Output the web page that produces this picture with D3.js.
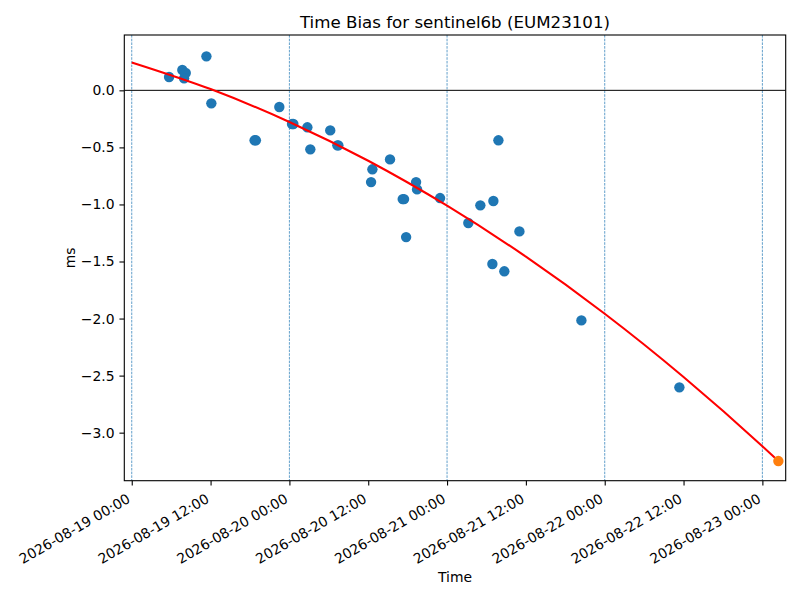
<!DOCTYPE html>
<html lang="en">
<head>
    <meta charset="UTF-8">
    <title>Time Bias for sentinel6b (EUM23101)</title>
    <script src="https://d3js.org/d3.v7.min.js"></script>
    <style>
        body { margin: 0; background: white; }
        svg { display: block; font-family: "DejaVu Sans", sans-serif; }
    </style>
</head>
<body>
    <svg id="chart" width="800" height="600"></svg>

    <script>
        // measured time bias samples (UTC time, ms)
        const sampleTimes = [
            '2026-08-19T05:41', '2026-08-19T07:42', '2026-08-19T08:13', '2026-08-19T07:58',
            '2026-08-19T11:22', '2026-08-19T12:07', '2026-08-19T18:42', '2026-08-19T18:54',
            '2026-08-19T22:28', '2026-08-20T00:24', '2026-08-20T00:36', '2026-08-20T02:44',
            '2026-08-20T03:11', '2026-08-20T06:13', '2026-08-20T07:18', '2026-08-20T07:27',
            '2026-08-20T12:38', '2026-08-20T12:26', '2026-08-20T15:19', '2026-08-20T17:15',
            '2026-08-20T17:27', '2026-08-20T17:46', '2026-08-20T19:17', '2026-08-20T19:26',
            '2026-08-20T22:56', '2026-08-21T03:14', '2026-08-21T05:04', '2026-08-21T06:54',
            '2026-08-21T07:03', '2026-08-21T07:49', '2026-08-21T08:43', '2026-08-21T11:01',
            '2026-08-21T20:27', '2026-08-22T11:22'
        ];
        const sampleBias = [
            0.117, 0.178, 0.152, 0.105,
            0.298, -0.114, -0.438, -0.438,
            -0.146, -0.295, -0.295, -0.324,
            -0.517, -0.351, -0.482, -0.482,
            -0.692, -0.804, -0.605, -0.953,
            -0.953, -1.286, -0.804, -0.868,
            -0.944, -1.163, -1.008, -1.522,
            -0.970, -0.438, -1.586, -1.236,
            -2.016, -2.603
        ];

        // predicted point at the end of the fit
        const predTime = '2026-08-23T02:26';
        const predBias = -3.249;

        // fitted trend
        const fitTimes = [
            '2026-08-19T00:00', '2026-08-19T12:00', '2026-08-20T00:00', '2026-08-20T12:00',
            '2026-08-21T00:00', '2026-08-21T12:00', '2026-08-22T00:00', '2026-08-22T12:00',
            '2026-08-23T00:00', '2026-08-23T02:26'
        ];
        const fitBias = [0.245, 0.011, -0.277, -0.617, -1.011, -1.458, -1.958, -2.512, -3.119, -3.249];

        // day boundaries marked with dashed lines
        const dayLines = ['2026-08-19T00:00', '2026-08-20T00:00', '2026-08-21T00:00', '2026-08-22T00:00', '2026-08-23T00:00'];

        const xTicks = [
            '2026-08-19T00:00', '2026-08-19T12:00', '2026-08-20T00:00', '2026-08-20T12:00',
            '2026-08-21T00:00', '2026-08-21T12:00', '2026-08-22T00:00', '2026-08-22T12:00',
            '2026-08-23T00:00'
        ];
        const yTicks = [0, -0.5, -1, -1.5, -2, -2.5, -3];

        const parse = d3.utcParse('%Y-%m-%dT%H:%M');
        const fmt = d3.utcFormat('%Y-%m-%d %H:%M');

        const width = 800, height = 600;
        const margin = { top: 35, right: 14.3, bottom: 119.3, left: 124.3 };
        const plotW = width - margin.left - margin.right;
        const plotH = height - margin.top - margin.bottom;

        const svg = d3.select('#chart');
        const g = svg.append('g').attr('transform', `translate(${margin.left},${margin.top})`);

        const x = d3.scaleUtc()
            .domain([parse('2026-08-18T22:52'), parse('2026-08-23T03:33')])
            .range([0, plotW]);
        const y = d3.scaleLinear()
            .domain([-3.421, 0.485])
            .range([plotH, 0]);

        // clip so nothing spills out of the axes
        svg.append('defs').append('clipPath').attr('id', 'clip')
            .append('rect').attr('width', plotW).attr('height', plotH);
        const plot = g.append('g').attr('clip-path', 'url(#clip)');

        // vertical dashed day lines
        plot.selectAll('line.day')
            .data(dayLines.map(parse))
            .join('line')
            .attr('class', 'day')
            .attr('x1', d => x(d)).attr('x2', d => x(d))
            .attr('y1', 0).attr('y2', plotH)
            .attr('stroke', '#1f77b4')
            .attr('stroke-width', 0.7)
            .attr('stroke-dasharray', '2.6,1.1');

        // zero line
        plot.append('line')
            .attr('x1', 0).attr('x2', plotW)
            .attr('y1', y(0)).attr('y2', y(0))
            .attr('stroke', 'black')
            .attr('stroke-width', 1);

        // samples
        const samples = sampleTimes.map((t, i) => ({ t: parse(t), v: sampleBias[i] }));
        plot.selectAll('circle.sample')
            .data(samples)
            .join('circle')
            .attr('class', 'sample')
            .attr('cx', d => x(d.t))
            .attr('cy', d => y(d.v))
            .attr('r', 5.2)
            .attr('fill', '#1f77b4');

        // fit line
        const fit = fitTimes.map((t, i) => ({ t: parse(t), v: fitBias[i] }));
        plot.append('path')
            .datum(fit)
            .attr('fill', 'none')
            .attr('stroke', 'red')
            .attr('stroke-width', 2.08)
            .attr('d', d3.line().x(d => x(d.t)).y(d => y(d.v)).curve(d3.curveMonotoneX));

        // predicted point
        plot.append('circle')
            .attr('cx', x(parse(predTime)))
            .attr('cy', y(predBias))
            .attr('r', 5.2)
            .attr('fill', '#ff7f0e');

        // axes
        const xAxis = g.append('g')
            .attr('transform', `translate(0,${plotH})`)
            .call(d3.axisBottom(x).tickValues(xTicks.map(parse)).tickFormat(fmt).tickSize(4.86).tickPadding(3.5));
        xAxis.selectAll('text')
            .attr('font-size', 13.9)
            .attr('font-family', '"DejaVu Sans", sans-serif')
            .attr('fill', 'black')
            .attr('text-anchor', 'end')
            .attr('dy', 0)
            .attr('y', 0)
            .attr('transform', 'translate(-1,21) rotate(-30)');

        const yAxis = g.append('g')
            .call(d3.axisLeft(y).tickValues(yTicks).tickFormat(d => d3.format('.1f')(d).replace('-', '\u2212')).tickSize(4.86).tickPadding(4.86));
        yAxis.selectAll('text')
            .attr('font-size', 13.9)
            .attr('font-family', '"DejaVu Sans", sans-serif')
            .attr('fill', 'black');

        [xAxis, yAxis].forEach(a => {
            a.select('.domain').remove();
            a.selectAll('.tick line').attr('stroke', 'black').attr('stroke-width', 1.1);
        });

        // frame
        g.append('rect')
            .attr('width', plotW).attr('height', plotH)
            .attr('fill', 'none')
            .attr('stroke', 'black')
            .attr('stroke-width', 1.1);

        // title and axis labels
        svg.append('text')
            .attr('x', margin.left + plotW / 2)
            .attr('y', 28)
            .attr('text-anchor', 'middle')
            .attr('font-size', 16.67)
            .text('Time Bias for sentinel6b (EUM23101)');

        svg.append('text')
            .attr('x', margin.left + plotW / 2)
            .attr('y', 582)
            .attr('text-anchor', 'middle')
            .attr('font-size', 13.9)
            .text('Time');

        svg.append('text')
            .attr('transform', `translate(75,${margin.top + plotH / 2}) rotate(-90)`)
            .attr('text-anchor', 'middle')
            .attr('font-size', 13.9)
            .text('ms');
    </script>
</body>
</html>
